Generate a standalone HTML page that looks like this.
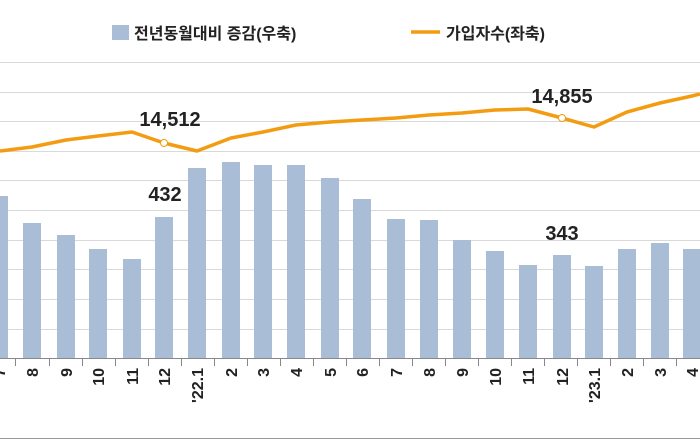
<!DOCTYPE html>
<html><head><meta charset="utf-8"><style>
html,body{margin:0;padding:0;background:#fff;}
svg{display:block;font-family:"Liberation Sans","Noto Sans CJK KR",sans-serif;}
</style></head><body>
<svg width="700" height="440" viewBox="0 0 700 440">
<rect x="0" y="0" width="700" height="440" fill="#fff"/>
<g stroke="#d9d9d9" stroke-width="1">
<line x1="0" x2="700" y1="62.5" y2="62.5"/>
<line x1="0" x2="700" y1="92.5" y2="92.5"/>
<line x1="0" x2="700" y1="121.5" y2="121.5"/>
<line x1="0" x2="700" y1="151.5" y2="151.5"/>
<line x1="0" x2="700" y1="180.5" y2="180.5"/>
<line x1="0" x2="700" y1="210.5" y2="210.5"/>
<line x1="0" x2="700" y1="240.5" y2="240.5"/>
<line x1="0" x2="700" y1="269.5" y2="269.5"/>
<line x1="0" x2="700" y1="299.5" y2="299.5"/>
<line x1="0" x2="700" y1="329.5" y2="329.5"/>
</g>
<g fill="#a9bdd6">
<rect x="-10" y="196" width="18" height="162"/>
<rect x="23" y="223" width="18" height="135"/>
<rect x="57" y="235" width="18" height="123"/>
<rect x="89" y="249" width="18" height="109"/>
<rect x="123" y="259" width="18" height="99"/>
<rect x="155" y="217" width="18" height="141"/>
<rect x="188" y="168" width="18" height="190"/>
<rect x="222" y="162" width="18" height="196"/>
<rect x="254" y="165" width="18" height="193"/>
<rect x="287" y="165" width="18" height="193"/>
<rect x="321" y="178" width="18" height="180"/>
<rect x="353" y="199" width="18" height="159"/>
<rect x="387" y="219" width="18" height="139"/>
<rect x="420" y="220" width="18" height="138"/>
<rect x="453" y="240" width="18" height="118"/>
<rect x="486" y="251" width="18" height="107"/>
<rect x="519" y="265" width="18" height="93"/>
<rect x="553" y="255" width="18" height="103"/>
<rect x="585" y="266" width="18" height="92"/>
<rect x="618" y="249" width="18" height="109"/>
<rect x="651" y="243" width="18" height="115"/>
<rect x="683" y="249" width="18" height="109"/>
</g>
<line x1="0" x2="700" y1="358.5" y2="358.5" stroke="#888" stroke-width="1"/>
<g stroke="#888" stroke-width="1">
<line x1="15.5" x2="15.5" y1="358" y2="366"/><line x1="49.5" x2="49.5" y1="358" y2="366"/>
<line x1="82.5" x2="82.5" y1="358" y2="366"/><line x1="115.5" x2="115.5" y1="358" y2="366"/>
<line x1="148.5" x2="148.5" y1="358" y2="366"/><line x1="181.5" x2="181.5" y1="358" y2="366"/>
<line x1="214.5" x2="214.5" y1="358" y2="366"/><line x1="247.5" x2="247.5" y1="358" y2="366"/>
<line x1="280.5" x2="280.5" y1="358" y2="366"/><line x1="313.5" x2="313.5" y1="358" y2="366"/>
<line x1="346.5" x2="346.5" y1="358" y2="366"/><line x1="379.5" x2="379.5" y1="358" y2="366"/>
<line x1="412.5" x2="412.5" y1="358" y2="366"/><line x1="445.5" x2="445.5" y1="358" y2="366"/>
<line x1="478.5" x2="478.5" y1="358" y2="366"/><line x1="511.5" x2="511.5" y1="358" y2="366"/>
<line x1="544.5" x2="544.5" y1="358" y2="366"/><line x1="577.5" x2="577.5" y1="358" y2="366"/>
<line x1="610.5" x2="610.5" y1="358" y2="366"/><line x1="643.5" x2="643.5" y1="358" y2="366"/>
<line x1="676.5" x2="676.5" y1="358" y2="366"/>
</g>
<polyline fill="none" stroke="#f39c12" stroke-width="3.5" stroke-linejoin="round" points="0,151 32,147 66,140 98,136 132,132 164,143 197,151 231,138 263,132 296,125 330,122 362,120 396,118 429,115 462,113 495,110 528,109 562,118 594,127 627,112 660,103 692,96 700,94"/>
<circle cx="164" cy="143" r="3.5" fill="#fff" stroke="#f39c12" stroke-width="1"/>
<circle cx="562" cy="118" r="3.5" fill="#fff" stroke="#f39c12" stroke-width="1"/>
<g font-weight="bold" font-size="20" fill="#222" text-anchor="middle">
<text x="170" y="126">14,512</text>
<text x="165" y="201">432</text>
<text x="562" y="103">14,855</text>
<text x="562" y="240">343</text>
</g>
<g font-weight="bold" font-size="16" fill="#222" text-anchor="end">
<text transform="translate(5,368) rotate(-90)">7</text>
<text transform="translate(38,368) rotate(-90)">8</text>
<text transform="translate(72,368) rotate(-90)">9</text>
<text transform="translate(104,368) rotate(-90)">10</text>
<text transform="translate(138,368) rotate(-90)">11</text>
<text transform="translate(170,368) rotate(-90)">12</text>
<text transform="translate(203,368) rotate(-90)">'22.1</text>
<text transform="translate(237,368) rotate(-90)">2</text>
<text transform="translate(269,368) rotate(-90)">3</text>
<text transform="translate(302,368) rotate(-90)">4</text>
<text transform="translate(336,368) rotate(-90)">5</text>
<text transform="translate(368,368) rotate(-90)">6</text>
<text transform="translate(402,368) rotate(-90)">7</text>
<text transform="translate(435,368) rotate(-90)">8</text>
<text transform="translate(468,368) rotate(-90)">9</text>
<text transform="translate(501,368) rotate(-90)">10</text>
<text transform="translate(534,368) rotate(-90)">11</text>
<text transform="translate(568,368) rotate(-90)">12</text>
<text transform="translate(600,368) rotate(-90)">'23.1</text>
<text transform="translate(633,368) rotate(-90)">2</text>
<text transform="translate(666,368) rotate(-90)">3</text>
<text transform="translate(698,368) rotate(-90)">4</text>
</g>
<rect x="112" y="25" width="17" height="15" fill="#a9bdd6"/>
<text x="134" y="39" font-size="16" font-weight="bold" fill="#222">전년동월대비 증감(우축)</text>
<line x1="411" x2="440" y1="32" y2="32" stroke="#f39c12" stroke-width="3.5"/>
<text x="446" y="39" font-size="16" font-weight="bold" fill="#222">가입자수(좌축)</text>
<line x1="0" x2="700" y1="438.5" y2="438.5" stroke="#999" stroke-width="1"/>
</svg>
</body></html>
